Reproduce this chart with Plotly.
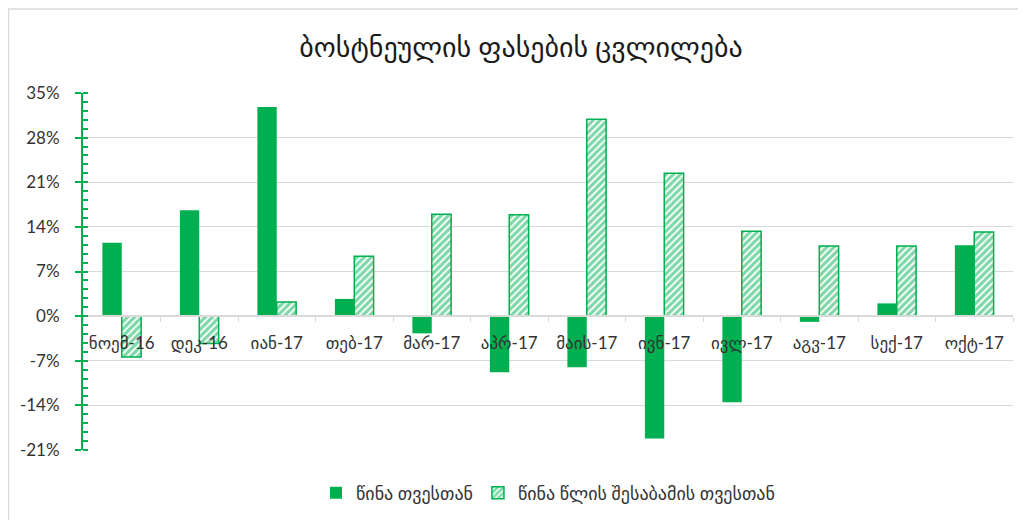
import plotly.graph_objects as go

categories = ["ნოემ-16", "დეკ-16", "იან-17", "თებ-17", "მარ-17", "აპრ-17",
              "მაის-17", "ივნ-17", "ივლ-17", "აგვ-17", "სექ-17", "ოქტ-17"]
month_change = [11.5, 16.6, 32.8, 2.7, -2.7, -8.8, -8.0, -19.2, -13.5, -0.9, 2.0, 11.1]
year_change = [-6.4, -4.3, 2.2, 9.4, 16.0, 15.9, 30.9, 22.4, 13.3, 11.0, 11.0, 13.2]
series_names = ["წინა თვესთან", "წინა წლის შესაბამის თვესთან"]
title_text = "ბოსტნეულის ფასების ცვლილება"
y_ticks = [-21, -14, -7, 0, 7, 14, 21, 28, 35]

GREEN = "#00B050"
FONT = "Lato, DejaVu Sans, sans-serif"
TXT = "#333333"

L, R, T, B = 75, 21, 85, 78
W, H = 1026, 520
PW, PH = W - L - R, H - T - B

fig = go.Figure()
fig.add_trace(go.Bar(
    x=categories, y=month_change, name=series_names[0],
    marker=dict(color=GREEN, line=dict(width=0)),
))
fig.add_trace(go.Bar(
    x=categories, y=year_change, name=series_names[1],
    marker=dict(color="white", line=dict(color=GREEN, width=1.5),
                pattern=dict(shape="/", fgcolor=GREEN, bgcolor="white",
                             size=5, solidity=0.65, fillmode="overlay")),
))

fig.update_layout(
    width=W, height=H,
    margin=dict(l=L, r=R, t=T, b=B),
    paper_bgcolor="white", plot_bgcolor="white",
    barmode="group", bargap=0.5, bargroupgap=0,
    font=dict(family=FONT, color=TXT, size=16),
    title=dict(text=title_text, x=0.5, xanchor="center", y=1 - 39 / H,
               yanchor="middle", font=dict(size=28, color="#1a1a1a", family=FONT)),
    legend=dict(orientation="h", x=0.5, xanchor="center", y=-(485 - (H - B)) / PH,
                yanchor="middle", font=dict(size=18, color=TXT),
                itemwidth=30, traceorder="normal"),
    showlegend=True,
)

fig.update_yaxes(
    range=[-21, 35], tickvals=y_ticks, ticktext=[f"{v}%" for v in y_ticks],
    showgrid=True, gridcolor="#d9d9d9", gridwidth=1,
    zeroline=False,
    showline=True, linecolor=GREEN, linewidth=2,
    ticks="outside", ticklen=6, tickcolor=GREEN, tickwidth=2,
    ticklabelstandoff=12,
    minor=dict(dtick=1.4, tick0=0, ticks="inside", ticklen=5, tickcolor=GREEN,
               tickwidth=1.5, showgrid=False),
    tickfont=dict(size=17, color=TXT),
)

fig.update_xaxes(
    anchor="free", position=21 / 56,
    showline=True, linecolor="#d9d9d9", linewidth=1.5,
    ticks="outside", tickson="boundaries", ticklen=5, tickcolor="#d9d9d9",
    ticklabelstandoff=12,
    showgrid=False,
    tickfont=dict(size=17, color=TXT),
)

fig.add_shape(type="rect", xref="paper", yref="paper",
              x0=(0.5 - L) / PW, x1=(W + 5 - L) / PW,
              y0=-(B + 5) / PH, y1=(H - B - 1) / PH,
              line=dict(color="#d9d9d9", width=1.5), fillcolor="rgba(0,0,0,0)",
              layer="below")

fig.write_html("out.html")
